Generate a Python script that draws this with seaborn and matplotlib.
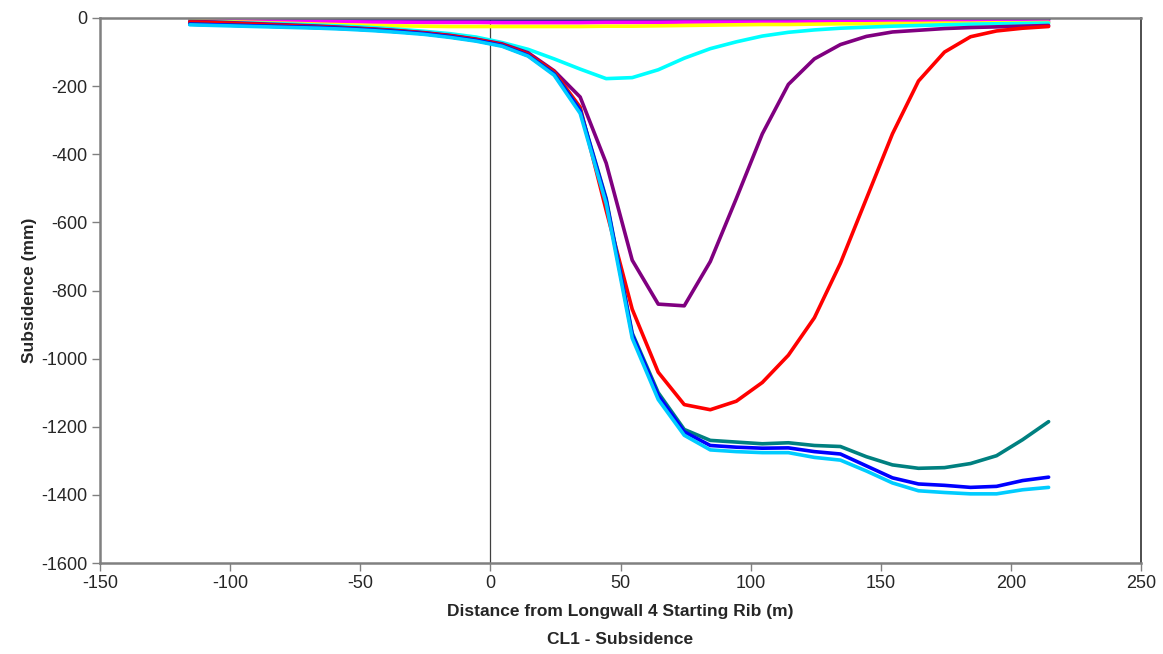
import matplotlib
matplotlib.use("Agg")
import matplotlib.pyplot as plt
import seaborn as sns
import pandas as pd

# distance along CL1 (m)
distance = [-115.5, -105.5, -95.5, -85.5, -75.5, -65.5, -55.5, -45.5, -35.5, -25.5,
            -15.5, -5.5, 4.5, 14.5, 24.5, 34.5, 44.5, 54.5, 64.5, 74.5,
            84.5, 94.5, 104.5, 114.5, 124.5, 134.5, 144.5, 154.5, 164.5, 174.5,
            184.5, 194.5, 204.5, 214.5]

# subsidence (mm) per survey
survey_1 = [-2, -2, -2, -2, -2, -2, -2, -2, -2, -2, -2, -2, -2, -2, -2, -2, -2,
            -2, -2, -2, -2, -2, -2, -2, -2, -2, -2, -2, -2, -2, -2, -2, -2, -2]
survey_2 = [-6, -7, -8, -9, -10, -10, -11, -12, -12, -13, -13, -13, -14, -14, -14, -14, -13,
            -13, -13, -12, -12, -12, -12, -12, -11, -11, -11, -11, -10, -10, -10, -10, -10, -10]
survey_3 = [-8, -10, -12, -14, -16, -18, -20, -22, -23, -24, -25, -25, -25, -25, -25, -25, -24,
            -24, -23, -22, -21, -20, -19, -19, -18, -17, -17, -16, -16, -15, -15, -14, -14, -13]
survey_4 = [-10, -12, -14, -16, -18, -21, -24, -28, -33, -39, -46, -56, -72, -92, -120, -150, -178,
            -175, -152, -118, -90, -70, -53, -42, -35, -30, -27, -24, -22, -20, -18, -17, -16, -15]
survey_5 = [-10, -12, -15, -18, -21, -24, -28, -32, -37, -43, -51, -62, -76, -102, -155, -232, -426,
            -711, -840, -845, -715, -530, -340, -195, -120, -78, -54, -41, -36, -31, -28, -26, -24, -22]
survey_6 = [-12, -14, -17, -20, -23, -26, -29, -33, -38, -44, -52, -63, -78, -106, -158, -262, -565,
            -855, -1040, -1135, -1150, -1125, -1070, -990, -880, -720, -530, -340, -185, -100, -55, -38, -30, -25]
survey_7 = [-18, -20, -22, -24, -26, -28, -31, -35, -40, -46, -55, -66, -81, -110, -163, -270, -530,
            -925, -1100, -1208, -1240, -1245, -1250, -1247, -1255, -1258, -1288, -1312, -1322, -1320,
            -1308, -1285, -1238, -1185]
survey_8 = [-18, -20, -22, -24, -26, -28, -31, -35, -40, -46, -55, -66, -81, -110, -165, -272, -535,
            -930, -1108, -1215, -1255, -1260, -1263, -1262, -1273, -1280, -1315, -1350, -1368, -1372,
            -1378, -1375, -1358, -1348]
survey_9 = [-20, -22, -24, -26, -28, -30, -33, -37, -42, -48, -57, -68, -83, -112, -168, -280, -545,
            -940, -1120, -1225, -1268, -1273, -1276, -1276, -1290, -1298, -1330, -1365, -1388, -1393,
            -1397, -1397, -1385, -1378]

surveys = {"Survey 1": survey_1, "Survey 2": survey_2, "Survey 3": survey_3,
           "Survey 4": survey_4, "Survey 5": survey_5, "Survey 6": survey_6,
           "Survey 7": survey_7, "Survey 8": survey_8, "Survey 9": survey_9}
colors = ["#000080", "#FF00FF", "#FFFF00", "#00FFFF", "#800080",
          "#FF0000", "#008080", "#0000FF", "#00CCFF"]

frames = []
for name, vals in surveys.items():
    frames.append(pd.DataFrame({"x": distance, "y": vals, "survey": name}))
df = pd.concat(frames, ignore_index=True)

sns.set_style("white")
plt.rcParams["font.family"] = ["Liberation Sans", "DejaVu Sans"]
plt.rcParams["axes.unicode_minus"] = False

fig = plt.figure(figsize=(11.63, 6.54), dpi=100)
ax = fig.add_axes([100 / 1163, 1 - 563 / 654, 1041 / 1163, 545 / 654])

sns.lineplot(data=df, x="x", y="y", hue="survey", hue_order=list(surveys.keys()),
             palette=colors, linewidth=2.6, legend=False, ax=ax, sort=False)

ax.axvline(0, color="#404040", linewidth=0.9, zorder=0)

ax.set_xlim(-150, 250)
ax.set_ylim(-1600, 0)
ax.set_xticks(range(-150, 251, 50))
ax.set_yticks(range(-1600, 1, 200))
ax.tick_params(axis="both", direction="out", length=6, width=1, color="#808080",
               labelsize=13, pad=3, bottom=True, left=True)

for side in ["left", "top", "bottom"]:
    ax.spines[side].set_color("#808080")
    ax.spines[side].set_linewidth(1.8)
ax.spines["right"].set_color("#303030")
ax.spines["right"].set_linewidth(1.2)

ax.set_xlabel("Distance from Longwall 4 Starting Rib (m)", fontsize=12.5,
              fontweight="bold", labelpad=8)
ax.set_ylabel("Subsidence (mm)", fontsize=12.5, fontweight="bold", labelpad=3)
fig.text(ax.get_position().x0 + ax.get_position().width / 2, 1 - 640 / 654,
         "CL1 - Subsidence", ha="center", va="center", fontsize=12.5, fontweight="bold")

fig.savefig("out.png", dpi=100)
